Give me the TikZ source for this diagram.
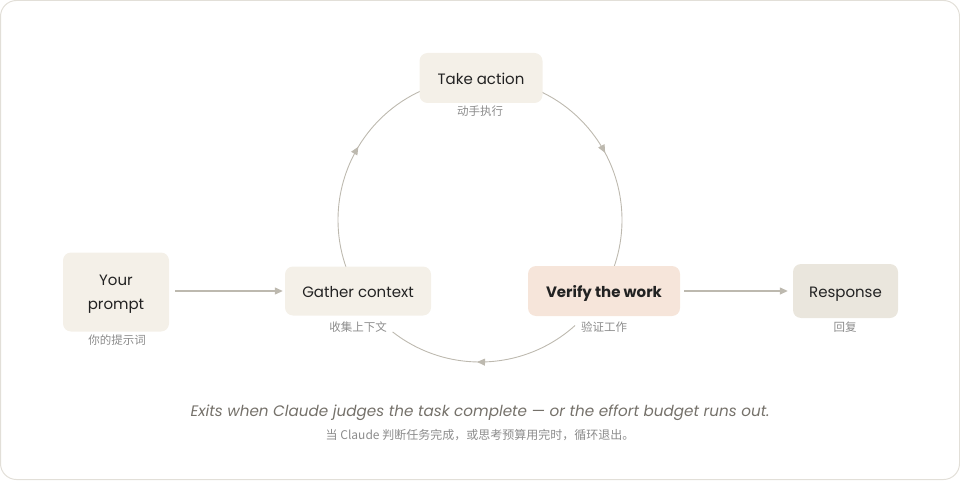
\documentclass[tikz,border=0pt]{standalone}
\usepackage{fontspec}
\setmainfont{Poppins}
\newfontfamily\cjk{Noto Sans CJK SC}
\usetikzlibrary{arrows.meta,decorations.markings}
\definecolor{boxfill}{HTML}{F4F0E8}
\definecolor{verifyfill}{HTML}{F6E5DA}
\definecolor{respfill}{HTML}{EAE6DD}
\definecolor{linec}{HTML}{BDB9AF}
\definecolor{txt}{HTML}{222222}
\definecolor{sub}{HTML}{8C8C8C}
\definecolor{note}{HTML}{75716A}
\definecolor{framec}{HTML}{E2DFD8}
\begin{document}
\begin{tikzpicture}[x=1pt,y=1pt,
  card/.style={rounded corners=8pt, fill=boxfill, inner sep=0pt, align=center,
    font=\fontsize{15}{24}\selectfont, text=txt, text height=13pt, text depth=0pt},
  sublabel/.style={font=\cjk\fontsize{11.5}{14}\selectfont, text=sub, inner sep=0pt},
  flow/.style={line width=1.3pt, draw=linec, -{Triangle[length=8pt,width=7pt]}},
  loopline/.style={line width=0.9pt, draw=linec, postaction=decorate},
  tipat/.style={decoration={markings, mark=at position #1 with {\arrow[linec]{Triangle[length=8pt,width=7pt]}}}},
]
\useasboundingbox (0,0) rectangle (960,480);
\draw[framec, line width=1pt, rounded corners=16pt] (0.5,0.5) rectangle (959.5,479.5);

% loop arcs (centre 480,260, radius 142)
\coordinate (ctr) at (480,260);
\draw[loopline, tipat=0.59] ([shift={(205:142)}]ctr) arc[start angle=205, end angle=110, radius=142];
\draw[loopline, tipat=0.44] ([shift={(70:142)}]ctr) arc[start angle=70, end angle=-25, radius=142];
\draw[loopline, tipat=0.54] ([shift={(-48:142)}]ctr) arc[start angle=-48, end angle=-128, radius=142];

% cards
\node[card, minimum width=123pt, minimum height=50pt] (take) at (481,402) {Take action};
\node[card, minimum width=106pt, minimum height=79pt, text height=, text depth=0pt] (prompt) at (116,188) {Your\\prompt};
\node[card, minimum width=146pt, minimum height=49pt] (gather) at (358,189) {Gather context};
\node[card, fill=verifyfill, minimum width=152pt, minimum height=50pt, font=\bfseries\fontsize{15}{24}\selectfont] (verify) at (604,189) {Verify the work};
\node[card, fill=respfill, minimum width=105pt, minimum height=54pt] (resp) at (845.5,189) {Response};

% sub labels
\node[sublabel] (takel) at (480,369) {动手执行};
\node[sublabel] (promptl) at (117,140) {你的提示词};
\node[sublabel] (gatherl) at (358,153) {收集上下文};
\node[sublabel] (verifyl) at (604,153) {验证工作};
\node[sublabel] (respl) at (845,153) {回复};

% straight flows
\draw[flow, shorten <=6pt, shorten >=2pt] (prompt.east |- gather.west) -- (gather.west);
\draw[flow, shorten <=4pt, shorten >=5pt] (verify) -- (resp);

% footnote
\node[font=\itshape\fontsize{15.2}{18}\selectfont, text=note] (exit) at (480,67)
  {Exits when Claude judges the task complete — or the effort budget runs out.};
\node[font=\cjk\fontsize{12}{14}\selectfont, text=sub] (exitcn) at (480,45)
  {当 Claude 判断任务完成，或思考预算用完时，循环退出。};
\end{tikzpicture}
\end{document}
